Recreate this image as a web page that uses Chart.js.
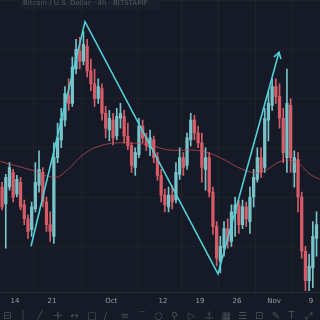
<!DOCTYPE html>
<html>
<head>
<meta charset="utf-8">
<script src="https://cdn.jsdelivr.net/npm/chart.js@4.4.0/dist/chart.umd.min.js"></script>
<style>
  html, body { margin: 0; padding: 0; background: #151a26; }
  #wrap { width: 320px; height: 320px; }
</style>
</head>
<body>
<div id="wrap"><canvas id="chart" width="320" height="320"></canvas></div>
<script>
// candles, two per trading day, starting Sep 10 (day -2 relative to Sep 14)
const firstDay = -1.75;
const opens  = [110, 93,110,125,103,115, 92, 78, 67, 88,112,125, 95, 72, 60,140,158,178,203,195,
                230,248,238,253,228,215,200,210,185,168,178,162,180,182,162,152,130,143,172,160,
                150,158,140,122,102, 90,102, 97,123,140,132,158,178,165,155,128,140,105, 70, 35,
                 48, 68, 55, 83, 92, 72, 90, 75,100,118,140,130,178,193,212,202,180,140,193,125,
                138,100, 45, 15, 28, 58];
const highs  = [115,123,135,128,122,120, 97, 82, 95,135,147,130,100, 85,155,175,190,212,220,242,
                260,262,268,260,240,230,220,215,192,188,185,190,195,188,175,155,150,180,178,165,
                168,162,145,128,108,110,112,135,150,145,165,185,183,172,165,150,145,110, 75, 60,
                 75, 78, 92,100, 97, 97, 95,110,128,150,150,190,207,220,220,215,190,230,200,147,
                145,105, 50, 42, 75, 85];
const lows   = [ 87, 48,107, 95,100, 87, 72, 58, 60, 85,105, 90, 65, 55, 53,135,150,172,188,192,
                225,230,234,222,208,192,195,178,160,157,153,158,170,155,148,125,122,140,155,147,
                142,135,117, 95, 85, 85, 88, 94,118,122,128,152,158,150,115,107,100, 62, 30, 23,
                 40, 48, 50, 60, 63, 68, 70, 63, 90,115,120,125,157,188,195,170,135,125,125,110,
                 85, 38,  5,  5,  8, 40];
const closes = [ 90,120,130,100,118, 90, 78, 65, 90,115,128, 95, 72, 65,140,160,180,205,195,232,
                250,238,255,228,215,200,212,185,170,180,160,182,185,162,152,132,145,172,160,152,
                160,140,122,102, 92,102, 95,125,140,130,160,178,165,155,130,140,105, 70, 38, 50,
                 68, 55, 85, 92, 72, 90, 78,100,120,140,125,180,195,212,202,180,145,195,140,140,
                100, 45, 15, 30, 60, 72];

// moving average
const maDays   = [-2.0, 2.4, 5.4, 7.0, 9.2, 11.5, 14.2, 18.2, 20.5, 25.0, 27.7, 30.8, 33.1, 36.2, 38.1, 39.9, 41.2];
const maValues = [136, 127, 120, 127, 143, 152, 155, 153, 148, 147, 140, 128, 125, 137, 135, 123, 118];

// drawn zigzag
const zigDays   = [2.16, 9.46, 27.43, 35.68];
const zigValues = [50, 278, 22, 247];

// x axis
const tickDays   = [0, 5, 13, 20, 25, 30, 35, 40];
const tickLabels = ['14', '21', 'Oct', '12', '19', '26', 'Nov', '9'];

const UP = '#78c3c9';
const DOWN = '#d65c68';
const candleX = closes.map((c, i) => firstDay + i * 0.5);
const isUp = closes.map((c, i) => c >= opens[i]);

const arrowHead = {
  id: 'arrowHead',
  afterDatasetsDraw(chart) {
    const pts = chart.getDatasetMeta(0).data;
    const a = pts[pts.length - 2], b = pts[pts.length - 1];
    const ang = Math.atan2(b.y - a.y, b.x - a.x);
    const ctx = chart.ctx;
    ctx.save();
    ctx.strokeStyle = '#4fd1d9';
    ctx.lineWidth = 1.6;
    ctx.beginPath();
    ctx.moveTo(b.x - 7 * Math.cos(ang - 0.55), b.y - 7 * Math.sin(ang - 0.55));
    ctx.lineTo(b.x, b.y);
    ctx.lineTo(b.x - 7 * Math.cos(ang + 0.55), b.y - 7 * Math.sin(ang + 0.55));
    ctx.stroke();
    ctx.restore();
  }
};

const chrome = {
  id: 'chrome',
  afterDraw(chart) {
    const ctx = chart.ctx;
    ctx.save();
    // legend strip at top
    ctx.fillStyle = 'rgba(28,32,44,0.9)';
    ctx.fillRect(20, 0, 140, 9);
    ctx.fillStyle = '#555a66';
    ctx.font = '7px "DejaVu Sans"';
    ctx.textBaseline = 'top';
    ctx.fillText('Bitcoin / U.S. Dollar · 4h · BITSTAMP', 23, 0);
    // toolbar at bottom
    ctx.fillStyle = '#151a26';
    ctx.fillRect(0, 310, 320, 10);
    ctx.fillStyle = '#4b4f5a';
    ctx.font = '10px "DejaVu Sans"';
    const icons = ['⊟', '│', '╱', '✛', '↔', '□', '∕', '≡', '⌒', '○', '⚲', '▷', '⚓', '▦', '☰', '⊡', '✎', 'T', '⤢'];
    icons.forEach((s, i) => ctx.fillText(s, 3 + i * 16.8, 311));
    ctx.restore();
  }
};

new Chart(document.getElementById('chart'), {
  type: 'bar',
  data: {
    datasets: [
      {
        type: 'line',
        data: zigDays.map((d, i) => ({ x: d, y: zigValues[i] })),
        borderColor: '#4fd1d9',
        borderWidth: 1.6,
        pointRadius: 0,
        tension: 0,
        order: 0
      },
      {
        type: 'line',
        data: maDays.map((d, i) => ({ x: d, y: maValues[i] })),
        borderColor: 'rgba(206,80,90,0.7)',
        borderWidth: 1,
        pointRadius: 0,
        tension: 0.4,
        order: 1
      },
      {
        data: candleX.map((x, i) => ({ x: x, y: [opens[i], closes[i]] })),
        backgroundColor: isUp.map(u => u ? UP : DOWN),
        barThickness: 2.6,
        minBarLength: 1,
        grouped: false,
        order: 2
      },
      {
        data: candleX.map((x, i) => ({ x: x, y: [lows[i], highs[i]] })),
        backgroundColor: isUp.map(u => u ? UP : DOWN),
        barThickness: 1,
        grouped: false,
        order: 3
      }
    ]
  },
  options: {
    responsive: false,
    animation: false,
    layout: { padding: { left: 0, right: 0, top: 0, bottom: 11 } },
    plugins: { legend: { display: false }, tooltip: { enabled: false } },
    scales: {
      x: {
        type: 'linear',
        offset: false,
        min: -2.03,
        max: 41.22,
        grid: { color: 'rgba(255,255,255,0.035)', drawTicks: false },
        border: { color: 'rgba(255,255,255,0.06)' },
        afterBuildTicks: axis => { axis.ticks = tickDays.map(v => ({ value: v })); },
        ticks: {
          color: '#9a9ea8',
          font: { family: 'DejaVu Sans', size: 7 },
          padding: 4,
          maxRotation: 0,
          autoSkip: false,
          callback: v => tickLabels[tickDays.indexOf(v)]
        }
      },
      y: {
        min: 3,
        max: 300,
        position: 'right',
        afterFit: axis => { axis.width = 0; },
        grid: { color: 'rgba(255,255,255,0.03)', drawTicks: false },
        border: { display: false },
        ticks: { display: false, stepSize: 50 }
      }
    }
  },
  plugins: [arrowHead, chrome]
});
</script>
</body>
</html>
